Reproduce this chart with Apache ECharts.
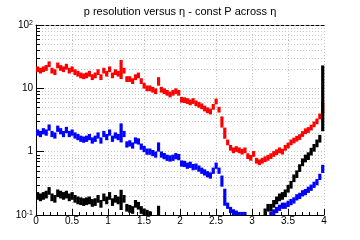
<!DOCTYPE html>
<html>
<head>
<meta charset="utf-8">
<script src="https://cdn.jsdelivr.net/npm/echarts@6/dist/echarts.min.js"></script>
<style>
html, body { margin: 0; padding: 0; background: #fff; }
#chart { width: 360px; height: 240px; }
</style>
</head>
<body>
<div id="chart"></div>
<script>
// eta bins: 100 bins of width 0.04 from 0 to 4
var binWidth = 0.04;

var redValues = [
  20, 19, 20, 21, 24, 19, 18, 23, 21, 20,
  22, 19, 20, 18, 17, 16, 15.5, 16, 17, 15,
  16, 18, 15, 19, 17, 20, 16, 18, 17, 22,
  19, 14, 14, 13, 15, 16, 13, 11, 10, 10,
  9.5, 9, 13, 9.5, 9, 8.5, 8, 8.5, 9, 8.5,
  6.6, 6.5, 6.3, 6.0, 6.3, 5.8, 5.5, 5.2, 4.8, 4.5,
  4.3, 5.1, 6.2, 4.6, 3.0, 2.0, 1.4, 1.15, 1.05, 1.1,
  1.05, 1.0, 1.05, 0.85, 0.8, 0.92, 0.72, 0.68, 0.72, 0.76,
  0.8, 0.85, 0.92, 0.98, 1.05, 1.0, 1.15, 1.25, 1.4, 1.5,
  1.6, 1.7, 1.9, 2.1, 2.2, 2.4, 2.7, 3.0, 3.6, 4.8
];
var blueValues = [
  2.0, 1.9, 2.1, 2.0, 2.4, 1.9, 1.8, 2.3, 2.1, 1.9,
  2.2, 1.9, 2.0, 1.8, 1.7, 1.6, 1.55, 1.6, 1.7, 1.5,
  1.6, 1.8, 1.5, 1.9, 1.7, 2.0, 1.6, 1.8, 1.7, 2.2,
  1.9, 1.3, 1.35, 1.25, 1.5, 1.45, 1.2, 1.1, 1.0, 1.0,
  0.95, 0.9, 1.3, 0.9, 0.85, 0.8, 0.78, 0.8, 0.85, 0.82,
  0.65, 0.64, 0.6, 0.62, 0.57, 0.58, 0.54, 0.5, 0.47, 0.44,
  0.42, 0.5, 0.6, 0.5, 0.35, 0.2, 0.14, 0.12, 0.11, 0.105,
  0.1, 0.1, 0.1, null, null, null, null, null, null, null,
  null, 0.1, 0.11, 0.12, 0.13, 0.14, 0.14, 0.15, 0.16, 0.17,
  0.19, 0.2, 0.22, 0.23, 0.25, 0.27, 0.3, 0.33, 0.4, 0.55
];
var blackValues = [
  0.2, 0.19, 0.2, 0.21, 0.24, 0.19, 0.18, 0.22, 0.21, 0.2,
  0.21, 0.19, 0.2, 0.18, 0.17, 0.165, 0.16, 0.165, 0.17, 0.155,
  0.16, 0.18, 0.15, 0.19, 0.17, 0.2, 0.16, 0.18, 0.17, 0.2,
  0.18, 0.13, 0.125, 0.12, 0.15, 0.14, 0.12, 0.11, 0.105, 0.1,
  null, null, 0.12, null, null, null, null, null, null, null,
  null, null, null, null, null, null, null, null, null, null,
  null, null, null, null, null, null, null, null, null, null,
  null, null, null, null, null, null, null, null, null, 0.11,
  0.13, 0.13, 0.15, 0.17, 0.19, 0.2, 0.22, 0.26, 0.3, 0.38,
  0.44, 0.55, 0.68, 0.78, 0.85, 1.0, 1.15, 1.35, 1.6, 7
];

// bins with visibly larger error bars: index -> [low, high]
var redWide = { 29: [14, 28], 42: [11, 15], 64: [2.4, 3.6], 65: [1.6, 2.4], 99: [4.0, 6.0] };
var blueWide = { 29: [1.4, 2.8], 42: [1.0, 1.4], 64: [0.28, 0.42], 65: [0.14, 0.26], 99: [0.46, 0.62] };
var blackWide = { 29: [0.12, 0.25], 42: [0.1, 0.14], 99: [2.1, 23] };

// log axis minor ticks
var minorTicks = [0.2, 0.3, 0.4, 0.5, 0.6, 0.7, 0.8, 0.9,
  2, 3, 4, 5, 6, 7, 8, 9, 20, 30, 40, 50, 60, 70, 80, 90];

var yMin = 0.1, yMax = 100;
var gridColor = '#c4c4c4';

function buildBins(values, wide, relErr) {
  var out = [];
  for (var i = 0; i < values.length; i++) {
    var v = values[i];
    if (v == null) continue;
    var x = binWidth * (i + 0.5);
    if (wide[i]) {
      out.push([x, v, wide[i][0], wide[i][1]]);
    } else {
      out.push([x, v, v / (1 + relErr), v * (1 + relErr)]);
    }
  }
  return out;
}

function renderBin(params, api) {
  var x = api.value(0);
  var lo = Math.max(api.value(2), yMin);
  var hi = Math.min(api.value(3), yMax);
  if (hi <= yMin) return;
  var a = api.coord([x - binWidth / 2, lo]);
  var b = api.coord([x + binWidth / 2, hi]);
  var h = Math.max(a[1] - b[1], 3);
  var mid = (a[1] + b[1]) / 2;
  var cs = params.coordSys;
  var top = Math.max(mid - h / 2, cs.y);
  var bottom = Math.min(mid + h / 2, cs.y + cs.height);
  return {
    type: 'rect',
    shape: { x: a[0], y: top, width: b[0] - a[0] + 0.3, height: bottom - top },
    style: { fill: api.visual('color') }
  };
}

function renderMinor(params, api) {
  var cs = params.coordSys;
  var p = api.coord([0, api.value(0)]);
  var y = Math.round(p[1]) + 0.5;
  return {
    type: 'group',
    children: [
      {
        type: 'line',
        shape: { x1: cs.x, y1: y, x2: cs.x + cs.width, y2: y },
        style: { stroke: gridColor, lineWidth: 1, lineDash: [1, 2] }
      },
      {
        type: 'line',
        shape: { x1: cs.x, y1: y, x2: cs.x + 4, y2: y },
        style: { stroke: '#000', lineWidth: 1 }
      }
    ]
  };
}

var labelFont = { fontFamily: 'Liberation Sans, Arial, sans-serif', fontSize: 10, color: '#000' };

var chart = echarts.init(document.getElementById('chart'), null, { renderer: 'canvas' });
chart.setOption({
  animation: false,
  backgroundColor: '#fff',
  title: {
    text: 'p resolution versus η - const P across η',
    left: 'center',
    top: 1,
    textStyle: { fontFamily: 'Liberation Sans, Arial, sans-serif', fontSize: 11, fontWeight: 'normal', color: '#000' }
  },
  grid: { left: 36, right: 36, top: 25, bottom: 25, containLabel: false },
  xAxis: [{
    type: 'value',
    min: 0,
    max: 4,
    interval: 0.5,
    axisLine: { lineStyle: { color: '#000', width: 1 } },
    axisTick: { inside: true, length: 6, lineStyle: { color: '#000' } },
    minorTick: { show: true, splitNumber: 5, length: 3, lineStyle: { color: '#000' } },
    splitLine: { show: true, lineStyle: { color: gridColor, type: [1, 2] } },
    axisLabel: Object.assign({ margin: 1 }, labelFont)
  }, {
    type: 'value',
    position: 'top',
    min: 0,
    max: 4,
    axisLine: { show: true, lineStyle: { color: '#000', type: [3, 2] } },
    axisTick: { show: false },
    axisLabel: { show: false },
    splitLine: { show: false }
  }],
  yAxis: [{
    type: 'log',
    logBase: 10,
    min: yMin,
    max: yMax,
    axisLine: { show: true, lineStyle: { color: '#000', width: 1 } },
    axisTick: { inside: true, length: 8, lineStyle: { color: '#000' } },
    splitLine: { show: true, lineStyle: { color: gridColor, type: [1, 2] } },
    axisLabel: Object.assign({
      margin: 3,
      formatter: function (v) {
        var e = Math.round(Math.log10(v));
        if (e === 0) return '1';
        if (e === 1) return '10';
        return '10{s|' + e + '}';
      },
      rich: { s: { fontSize: 7, verticalAlign: 'top', lineHeight: 8, color: '#000', fontFamily: 'Liberation Sans, Arial, sans-serif' } }
    }, labelFont)
  }, {
    type: 'log',
    logBase: 10,
    position: 'right',
    min: yMin,
    max: yMax,
    axisLine: { show: true, lineStyle: { color: '#000', type: [3, 2] } },
    axisTick: { show: false },
    axisLabel: { show: false },
    splitLine: { show: false }
  }],
  series: [{
    type: 'custom',
    name: 'minor',
    silent: true,
    z: 1,
    renderItem: renderMinor,
    data: minorTicks.map(function (v) { return [v]; }),
    encode: { y: 0 }
  }, {
    type: 'custom',
    name: 'red',
    z: 3,
    color: '#ff0000',
    renderItem: renderBin,
    data: buildBins(redValues, redWide, 0.11),
    encode: { x: 0, y: 1 }
  }, {
    type: 'custom',
    name: 'blue',
    z: 3,
    color: '#0000ff',
    renderItem: renderBin,
    data: buildBins(blueValues, blueWide, 0.12),
    encode: { x: 0, y: 1 }
  }, {
    type: 'custom',
    name: 'black',
    z: 3,
    color: '#000000',
    renderItem: renderBin,
    data: buildBins(blackValues, blackWide, 0.15),
    encode: { x: 0, y: 1 }
  }]
});
</script>
</body>
</html>
